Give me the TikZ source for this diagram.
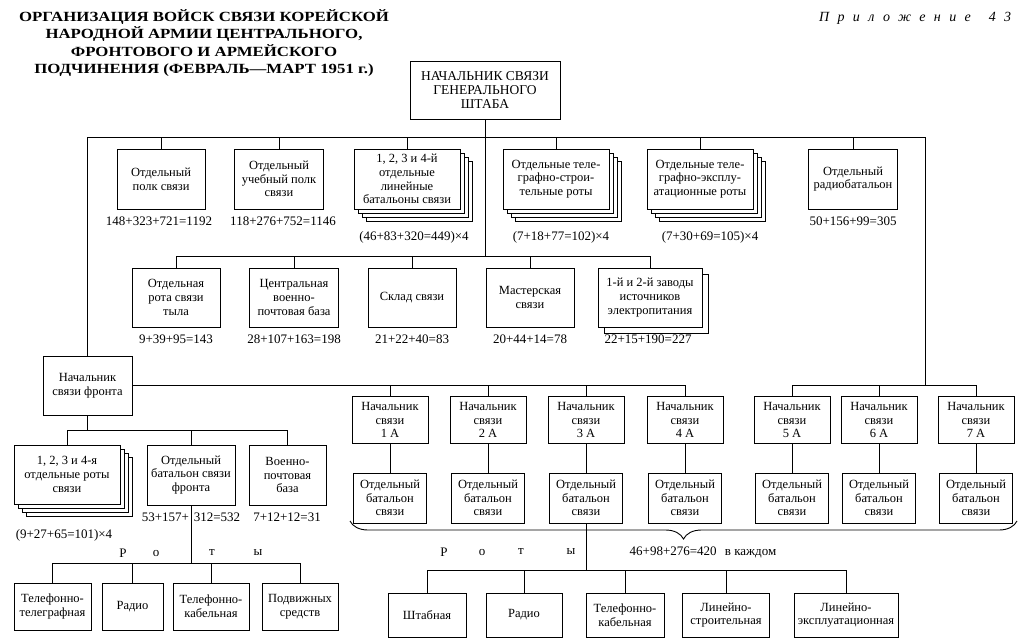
\documentclass[tikz,border=0pt]{standalone}
\usepackage{fontspec}
\setmainfont{Liberation Serif}
\newfontfamily\titlefont[FakeStretch=1.2]{Liberation Serif}
\newfontfamily\appfont[LetterSpace=60]{Liberation Serif}
\usetikzlibrary{shadows,decorations.pathreplacing}

\begin{document}
\begin{tikzpicture}[x=1pt, y=-1pt, line width=0.9pt,
    box/.style={draw, fill=white, align=center, inner sep=1pt, font=\fontsize{12.5}{13.6}\selectfont},
    num/.style={inner sep=0pt, font=\fontsize{13}{14}\selectfont},
    sheets/.style={copy shadow={shadow xshift=12pt, shadow yshift=-12pt},
      copy shadow={shadow xshift=8pt, shadow yshift=-8pt},
      copy shadow={shadow xshift=4pt, shadow yshift=-4pt}},
    twosheets/.style={copy shadow={shadow xshift=6pt, shadow yshift=-6pt}}]
  \useasboundingbox (0,0) rectangle (1023,643);

  % Title
  \node[align=center, font=\fontsize{14}{17.5}\titlefont\bfseries] (title) at (204,43)
    {ОРГАНИЗАЦИЯ ВОЙСК СВЯЗИ КОРЕЙСКОЙ\\НАРОДНОЙ АРМИИ ЦЕНТРАЛЬНОГО,\\ФРОНТОВОГО И АРМЕЙСКОГО\\ПОДЧИНЕНИЯ (ФЕВРАЛЬ—МАРТ 1951 г.)};
  \node[anchor=east, font=\fontsize{14}{16}\appfont\itshape] (app) at (1015,18) {Приложение\hspace{6pt} 43};

  % General staff
  \node[box, minimum width=150pt, minimum height=58pt, font=\fontsize{13.5}{14}\selectfont] (gs) at (485,90) {НАЧАЛЬНИК СВЯЗИ\\ГЕНЕРАЛЬНОГО\\ШТАБА};

  % Row 1: central units
  \node[box, minimum width=88pt, minimum height=60pt] (r1a) at (161,179) {Отдельный\\полк связи};
  \node[box, minimum width=89pt, minimum height=60pt] (r1b) at (279,179) {Отдельный\\учебный полк\\связи};
  \node[box, sheets, minimum width=106pt, minimum height=60pt] (r1c) at (407,179) {1, 2, 3 и 4-й\\отдельные\\линейные\\батальоны связи};
  \node[box, sheets, minimum width=106pt, minimum height=60pt] (r1d) at (556,179) {Отдельные теле-\\графно-строи-\\тельные роты};
  \node[box, sheets, minimum width=106pt, minimum height=60pt] (r1e) at (700,179) {Отдельные теле-\\графно-эксплу-\\атационные роты};
  \node[box, minimum width=89pt, minimum height=60pt] (r1f) at (853,179) {Отдельный\\радиобатальон};

  \node[num] (n1a) at (159,221) {148+323+721=1192};
  \node[num] (n1b) at (283,221) {118+276+752=1146};
  \node[num] (n1c) at (414,237) {(46+83+320=449)×4};
  \node[num] (n1d) at (561,237) {(7+18+77=102)×4};
  \node[num] (n1e) at (710,237) {(7+30+69=105)×4};
  \node[num] (n1f) at (853,221) {50+156+99=305};

  % Row 2: rear units
  \node[box, minimum width=88pt, minimum height=59pt] (r2a) at (176,297.5) {Отдельная\\рота связи\\тыла};
  \node[box, minimum width=89pt, minimum height=59pt] (r2b) at (294,297.5) {Центральная\\военно-\\почтовая база};
  \node[box, minimum width=88pt, minimum height=59pt] (r2c) at (412,297.5) {Склад связи};
  \node[box, minimum width=88pt, minimum height=59pt] (r2d) at (530,297.5) {Мастерская\\связи};
  \node[box, twosheets, minimum width=104pt, minimum height=59pt] (r2e) at (650,297.5) {1-й и 2-й заводы\\источников\\электропитания};

  \node[num] (n2a) at (176,339) {9+39+95=143};
  \node[num] (n2b) at (294,339) {28+107+163=198};
  \node[num] (n2c) at (412,339) {21+22+40=83};
  \node[num] (n2d) at (530,339) {20+44+14=78};
  \node[num] (n2e) at (648,339) {22+15+190=227};

  % Front
  \node[box, minimum width=89pt, minimum height=59pt] (front) at (87.5,385.5) {Начальник\\связи фронта};
  \node[box, sheets, minimum width=106pt, minimum height=59pt] (f1) at (67,474.5) {1, 2, 3 и 4-я\\отдельные роты\\связи};
  \node[box, minimum width=88pt, minimum height=60pt] (f2) at (191,475) {Отдельный\\батальон связи\\фронта};
  \node[box, minimum width=77pt, minimum height=60pt] (f3) at (287.5,475) {Военно-\\почтовая\\база};
  \node[num] (nf1) at (64,535) {(9+27+65=101)×4};
  \node[num] (nf2) at (191,517) {53+157+\hspace{5pt}312=532};
  \node[num] (nf3) at (287,517) {7+12+12=31};

  \foreach \x/\l in {123/Р,156/о,212/т,258/ы}
    \node[num] (rl\x) at (\x,553) {\l};
  \node[box, minimum width=77pt, minimum height=47pt] (d1) at (52.5,606.5) {Телефонно-\\телеграфная};
  \node[box, minimum width=61pt, minimum height=47pt] (d2) at (132.5,606.5) {Радио};
  \node[box, minimum width=76pt, minimum height=47pt] (d3) at (211,606.5) {Телефонно-\\кабельная};
  \node[box, minimum width=76pt, minimum height=47pt] (d4) at (300,606.5) {Подвижных\\средств};

  % Armies
  \foreach \i/\x in {1/390,2/488,3/586,4/685,5/792,6/879,7/976} {
    \node[box, minimum width=76pt, minimum height=47pt] (a\i) at (\x,420) {Начальник\\связи\\\i~А};
    \node[box, minimum width=73pt, minimum height=50pt] (b\i) at (\x,498) {Отдельный\\батальон\\связи};
    \draw (a\i) -- (b\i);
  }

  \foreach \x/\l in {444/Р,482/о,521/т,571/ы}
    \node[num] (rr\x) at (\x,552) {\l};
  \node[num] (nc) at (703,552) {46+98+276=420\hspace{5pt} в каждом};
  \node[box, minimum width=78pt, minimum height=44pt] (c1) at (427,615) {Штабная};
  \node[box, minimum width=76pt, minimum height=44pt] (c2) at (524,615) {Радио};
  \node[box, minimum width=78pt, minimum height=44pt] (c3) at (625,615) {Телефонно-\\кабельная};
  \node[box, minimum width=87pt, minimum height=44pt] (c4) at (726,615) {Линейно-\\строительная};
  \node[box, minimum width=104pt, minimum height=44pt] (c5) at (846,615) {Линейно-\\эксплуатационная};

  % Connectors
  \coordinate (tr) at (925,137);
  \coordinate (bus2) at (486,256);
  \coordinate (fbus) at (0,430);
  \coordinate (dbus) at (0,563);
  \coordinate (cbus) at (0,570);
  \coordinate (brl) at (350,521);
  \coordinate (brr) at (1017,521);

  \draw (front.north) |- (tr) -- (tr |- front.east);
  \foreach \n in {r1a,r1b,r1c,r1d,r1e,r1f}
    \draw (\n.north) -- (\n.north |- tr);
  \draw (gs.south) -- (gs.south |- bus2);
  \draw (r2a.north) |- (r2e.north |- bus2) -- (r2e.north);
  \foreach \n in {r2b,r2c,r2d}
    \draw (\n.north) -- (\n.north |- bus2);

  \draw (front.east) -- (a4.north |- front.east) -- (a4.north);
  \foreach \i in {1,2,3}
    \draw (a\i.north) -- (a\i.north |- front.east);
  \draw (a5.north) |- (a7.north |- front.east) -- (a7.north);
  \draw (a6.north) -- (a6.north |- front.east);

  \draw (front.south) -- (front.south |- fbus);
  \draw (f1.north) |- (f3.north |- fbus) -- (f3.north);
  \draw (f2.north) -- (f2.north |- fbus);
  \draw (f2.south) -- (f2.south |- dbus);
  \draw (d1.north) |- (d4.north |- dbus) -- (d4.north);
  \foreach \n in {d2,d3}
    \draw (\n.north) -- (\n.north |- dbus);

  \draw[decorate, decoration={brace, mirror, amplitude=18pt}] (brl) -- (brr);
  \draw (b3.south) -- (b3.south |- cbus);
  \draw (c1.north) |- (c5.north |- cbus) -- (c5.north);
  \foreach \n in {c2,c3,c4}
    \draw (\n.north) -- (\n.north |- cbus);
\end{tikzpicture}
\end{document}
